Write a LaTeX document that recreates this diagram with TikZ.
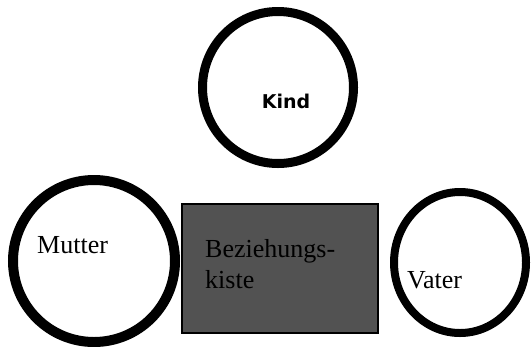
\documentclass[tikz,border=0pt]{standalone}
\usepackage{fontspec}
\setmainfont{Liberation Serif}
\newfontfamily\kindfont{DejaVu Sans}
\usetikzlibrary{shapes.geometric}
\begin{document}
\begin{tikzpicture}[x=1pt,y=-1pt,
  ring/.style={draw=black, ellipse, fill=white, inner sep=0pt},
  lbl/.style={anchor=base west, inner sep=0pt, font=\fontsize{26}{31}\selectfont}]
\useasboundingbox (0,0) rectangle (532,346);
\fill[white] (0,0) rectangle (532,346);
% child
\node[ring, line width=9pt, minimum width=151pt, minimum height=152pt] (kind) at (278,87.5) {};
\node[inner sep=0pt, font=\kindfont\bfseries\fontsize{19}{22}\selectfont] (kindtxt) at (286,101) {Kind};
% mother
\node[ring, line width=10pt, minimum width=162pt, minimum height=162pt] (mutter) at (94,261) {};
\node[lbl] (muttertxt) at (37,253) {Mutter};
% relationship box
\node[draw=black, line width=1.5pt, fill=black!68, minimum width=196pt, minimum height=129pt, inner sep=0pt] (kiste) at (280,268.5) {};
\node[lbl] (kiste1) at (205,257) {Beziehungs-};
\node[lbl] (kiste2) at (205,288) {kiste};
% father
\node[ring, line width=8pt, minimum width=132pt, minimum height=141pt] (vater) at (460,262.5) {};
\node[lbl] (vatertxt) at (407,288) {Vater};
\end{tikzpicture}
\end{document}
